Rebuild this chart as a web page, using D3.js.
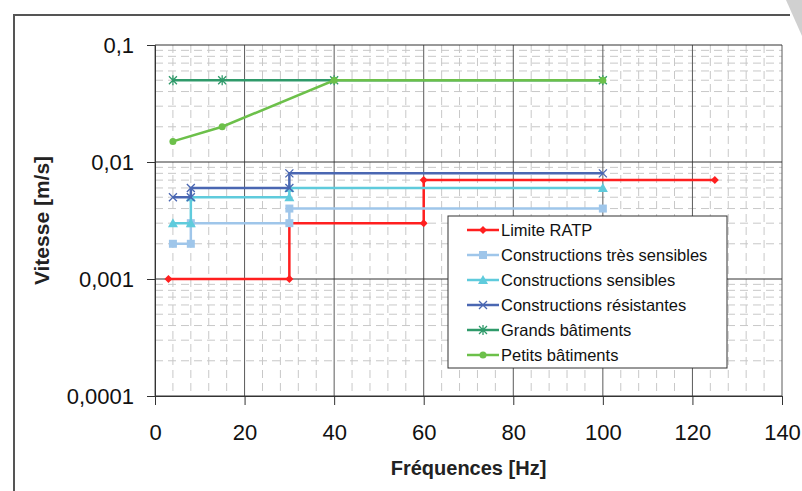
<!DOCTYPE html>
<html>
<head>
<meta charset="utf-8">
<script src="https://cdn.jsdelivr.net/npm/d3@7"></script>
<style>
  body { margin: 0; background: #fff; }
  svg { display: block; font-family: "Liberation Sans", Arial, sans-serif; }
</style>
</head>
<body>
<div id="chart"></div>
<script>
// series values: [Hz, m/s]
const limiteRatp = [[3, 0.001], [30, 0.001], [30, 0.003], [60, 0.003], [60, 0.007], [125, 0.007]]
const tresSensibles = [[4, 0.002], [8, 0.002], [8, 0.003], [30, 0.003], [30, 0.004], [100, 0.004]]
const sensibles = [[4, 0.003], [8, 0.003], [8, 0.005], [30, 0.005], [30, 0.006], [100, 0.006]]
const resistantes = [[4, 0.005], [8, 0.005], [8, 0.006], [30, 0.006], [30, 0.008], [100, 0.008]]
const grands = [[4, 0.05], [15, 0.05], [40, 0.05], [100, 0.05]]
const petits = [[4, 0.015], [15, 0.02], [40, 0.05], [100, 0.05]]

const seriesNames = ['Limite RATP', 'Constructions très sensibles', 'Constructions sensibles',
  'Constructions résistantes', 'Grands bâtiments', 'Petits bâtiments']
const xTicks = [0, 20, 40, 60, 80, 100, 120, 140]
const yTicks = [0.0001, 0.001, 0.01, 0.1]
const yTickLabels = ['0,0001', '0,001', '0,01', '0,1']

const series = [
  { name: seriesNames[0], data: limiteRatp, color: '#ff1f1f', marker: 'diamond' },
  { name: seriesNames[1], data: tresSensibles, color: '#9fc6ea', marker: 'square' },
  { name: seriesNames[2], data: sensibles, color: '#5fcbdc', marker: 'triangle' },
  { name: seriesNames[3], data: resistantes, color: '#4a67b2', marker: 'cross' },
  { name: seriesNames[4], data: grands, color: '#2f9a6a', marker: 'star' },
  { name: seriesNames[5], data: petits, color: '#6cc04a', marker: 'circle' }
]

const width = 802
const height = 491
const pLeft = 155, pRight = 782, pTop = 45, pBottom = 396

const svg = d3.select('#chart').append('svg')
  .attr('width', width)
  .attr('height', height)

// page frame
svg.append('path')
  .attr('d', 'M14,491 L14,15 L790,15')
  .attr('fill', 'none')
  .attr('stroke', '#555')
  .attr('stroke-width', 2)
svg.append('polygon')
  .attr('points', '786,0 802,0 802,36')
  .attr('fill', '#d0d0d0')

const xScale = d3.scaleLinear().domain([0, 140]).range([pLeft, pRight])
const yScale = d3.scaleLog().domain([0.0001, 0.1]).range([pBottom, pTop])

// minor grid
const minorX = d3.range(0, 141, 4).filter(v => v % 20 !== 0)
const minorY = []
;[0.0001, 0.001, 0.01].forEach(dec => {
  for (let k = 2; k <= 9; k++) minorY.push(dec * k)
})

const grid = svg.append('g')
grid.selectAll('.minx')
  .data(minorX)
  .enter()
  .append('line')
  .attr('x1', d => xScale(d)).attr('x2', d => xScale(d))
  .attr('y1', pTop).attr('y2', pBottom)
  .attr('stroke', '#c8c8c8')
  .attr('stroke-dasharray', '8,5')
grid.selectAll('.miny')
  .data(minorY)
  .enter()
  .append('line')
  .attr('x1', pLeft).attr('x2', pRight)
  .attr('y1', d => yScale(d)).attr('y2', d => yScale(d))
  .attr('stroke', '#c8c8c8')
  .attr('stroke-dasharray', '8,5')

// major grid
grid.selectAll('.majx')
  .data(xTicks)
  .enter()
  .append('line')
  .attr('x1', d => xScale(d)).attr('x2', d => xScale(d))
  .attr('y1', pTop).attr('y2', pBottom)
  .attr('stroke', '#5a5a5a')
grid.selectAll('.majy')
  .data(yTicks)
  .enter()
  .append('line')
  .attr('x1', pLeft).attr('x2', pRight)
  .attr('y1', d => yScale(d)).attr('y2', d => yScale(d))
  .attr('stroke', '#333')

// axes
const xAxis = d3.axisBottom(xScale).tickValues(xTicks).tickSize(9).tickPadding(19)
const yAxis = d3.axisLeft(yScale).tickValues(yTicks).tickSize(8).tickPadding(13)
  .tickFormat((d, i) => yTickLabels[i])

const gx = svg.append('g')
  .attr('transform', `translate(0, ${pBottom})`)
  .call(xAxis)
const gy = svg.append('g')
  .attr('transform', `translate(${pLeft}, 0)`)
  .call(yAxis)
;[gx, gy].forEach(g => {
  g.select('.domain').attr('stroke', '#333')
  g.selectAll('.tick line').attr('stroke', '#333')
  g.selectAll('.tick text').attr('font-size', 22).attr('fill', '#111')
    .attr('font-family', '"Liberation Sans", Arial, sans-serif')
})

svg.append('text')
  .attr('x', (pLeft + pRight) / 2)
  .attr('y', 475)
  .attr('text-anchor', 'middle')
  .attr('font-weight', 'bold')
  .attr('font-size', 20)
  .attr('fill', '#222')
  .text('Fréquences [Hz]')
svg.append('text')
  .attr('transform', `translate(49, ${(pTop + pBottom) / 2}) rotate(-90)`)
  .attr('text-anchor', 'middle')
  .attr('font-weight', 'bold')
  .attr('font-size', 21)
  .attr('fill', '#222')
  .text('Vitesse [m/s]')

// markers
function drawMarker(g, type, x, y, color) {
  if (type === 'diamond') {
    g.append('path').attr('d', `M${x},${y - 4}L${x + 4},${y}L${x},${y + 4}L${x - 4},${y}Z`).attr('fill', color)
  } else if (type === 'square') {
    g.append('rect').attr('x', x - 4).attr('y', y - 4).attr('width', 8).attr('height', 8).attr('fill', color)
  } else if (type === 'triangle') {
    g.append('path').attr('d', `M${x},${y - 5}L${x + 5},${y + 4}L${x - 5},${y + 4}Z`).attr('fill', color)
  } else if (type === 'cross') {
    g.append('path').attr('d', `M${x - 4},${y - 4}L${x + 4},${y + 4}M${x - 4},${y + 4}L${x + 4},${y - 4}`)
      .attr('stroke', color).attr('stroke-width', 1.3)
  } else if (type === 'star') {
    g.append('path').attr('d', `M${x - 4},${y - 4}L${x + 4},${y + 4}M${x - 4},${y + 4}L${x + 4},${y - 4}M${x},${y - 5}L${x},${y + 5}`)
      .attr('stroke', color).attr('stroke-width', 1.3)
  } else {
    g.append('circle').attr('cx', x).attr('cy', y).attr('r', 3.5).attr('fill', color)
  }
}

const line = d3.line().x(d => xScale(d[0])).y(d => yScale(d[1]))

// series drawn in order, later ones on top
series.forEach(s => {
  const g = svg.append('g')
  g.append('path')
    .datum(s.data)
    .attr('d', line)
    .attr('fill', 'none')
    .attr('stroke', s.color)
    .attr('stroke-width', 2.5)
  s.data.forEach(d => drawMarker(g, s.marker, xScale(d[0]), yScale(d[1]), s.color))
})

// legend
const legend = svg.append('g').attr('transform', 'translate(448, 216)')
legend.append('rect')
  .attr('width', 279).attr('height', 152)
  .attr('fill', '#fff').attr('stroke', '#333')
series.forEach((s, i) => {
  const y = 14 + i * 25
  legend.append('line')
    .attr('x1', 19).attr('x2', 51).attr('y1', y).attr('y2', y)
    .attr('stroke', s.color).attr('stroke-width', 2.5)
  drawMarker(legend, s.marker, 35, y, s.color)
  legend.append('text')
    .attr('x', 53).attr('y', y + 6)
    .attr('font-size', 16.5)
    .attr('fill', '#111')
    .text(s.name)
})
</script>
</body>
</html>
